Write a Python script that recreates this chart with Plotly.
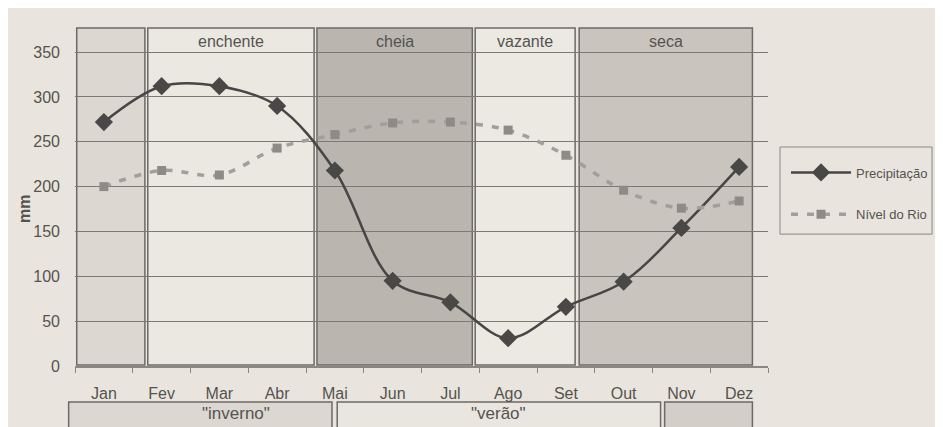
import plotly.graph_objects as go

meses = ["Jan", "Fev", "Mar", "Abr", "Mai", "Jun", "Jul", "Ago", "Set", "Out", "Nov", "Dez"]
precipitacao = [272, 312, 312, 290, 218, 95, 71, 31, 66, 94, 154, 222]
nivel_rio = [200, 218, 213, 243, 258, 271, 272, 263, 235, 196, 176, 184]

# seasons: (label, start, end in category units, fill)
estacoes = [
    ("", -0.47, 0.71, "#dcd8d1"),
    ("enchente", 0.76, 3.64, "#ebe8e2"),
    ("cheia", 3.69, 6.38, "#bab6af"),
    ("vazante", 6.43, 8.16, "#ece9e3"),
    ("seca", 8.23, 11.23, "#c9c5be"),
]
periodos = [
    ('"inverno"', -0.61, 3.95, "#dcd8d1"),
    ('"verão"', 4.04, 9.64, "#e9e6e0"),
    ("", 9.71, 11.23, "#d3cfc8"),
]

BG = "#e9e5de"
Y_TOP = 377
X0, X1 = -0.5, 11.5

fig = go.Figure()
fig.add_trace(go.Scatter(
    x=meses, y=precipitacao, name="Precipitação", mode="lines+markers",
    line=dict(color="#474545", width=2.5, shape="spline", smoothing=1.0),
    marker=dict(symbol="diamond", size=14, color="#4a4846"),
    legendgroup="a",
))
fig.add_trace(go.Scatter(
    x=meses, y=nivel_rio, name="Nível do Rio", mode="lines+markers",
    line=dict(color="#a29f9a", width=3.5, dash="7px,9px", shape="spline", smoothing=1.0),
    marker=dict(symbol="square", size=9, color="#8e8b86"),
    legendgroup="b",
))

shapes = []
annotations = []
for lab, a, b, col in estacoes:
    shapes.append(dict(type="rect", xref="x", yref="y", x0=a, x1=b, y0=1, y1=Y_TOP,
                       fillcolor=col, line=dict(color="#6c6a66", width=1.5), layer="below"))
    if lab:
        annotations.append(dict(x=(a + b) / 2, y=362, xref="x", yref="y", text=lab,
                                showarrow=False, font=dict(size=16, color="#555350")))

def to_paper(u):
    return (u - X0) / (X1 - X0)

for lab, a, b, col in periodos:
    shapes.append(dict(type="rect", xref="paper", yref="paper", x0=to_paper(a), x1=to_paper(b),
                       y0=-0.106, y1=-0.2, fillcolor=col, line=dict(color="#6c6a66", width=1.5),
                       layer="below"))
    if lab:
        annotations.append(dict(x=to_paper((a + b) / 2), y=-0.14, xref="paper", yref="paper",
                                yanchor="middle", text=lab, showarrow=False,
                                font=dict(size=17, color="#555350")))

# legend frame
shapes.append(dict(type="rect", xref="paper", yref="paper", x0=1.0173, x1=1.2367,
                   y0=0.389, y1=0.646, fillcolor=BG, line=dict(color="#8a8782", width=1),
                   layer="below"))

# y axis title
annotations.append(dict(x=-0.0736, y=0.463, xref="paper", yref="paper", text="<b>mm</b>",
                        textangle=-90, showarrow=False, xanchor="center", yanchor="middle",
                        font=dict(size=16, color="#555350")))

fig.update_layout(
    width=943, height=427,
    margin=dict(l=67, r=183, t=19, b=69),
    paper_bgcolor=BG, plot_bgcolor=BG,
    font=dict(family="Liberation Sans, Arial, sans-serif", color="#555350"),
    shapes=shapes, annotations=annotations,
    showlegend=True,
    legend=dict(x=1.026, y=0.615, xanchor="left", yanchor="top",
                bgcolor="rgba(0,0,0,0)", borderwidth=0,
                font=dict(size=13, color="#555350"), tracegroupgap=22,
                itemwidth=60),
    xaxis=dict(range=[X0, X1], showgrid=False, showline=True, linecolor="#8a8782", linewidth=1.5,
               ticks="outside", ticklen=5, tickcolor="#8a8782", tickson="boundaries",
               tickfont=dict(size=16, color="#555350"), ticklabelstandoff=12, zeroline=False),
    yaxis=dict(range=[0, Y_TOP + 1], tickvals=[0, 50, 100, 150, 200, 250, 300, 350],
               showgrid=True, gridcolor="#7c7975", gridwidth=1, zeroline=False,
               showline=False, tickfont=dict(size=16, color="#555350"), ticklabelstandoff=14),
)

fig.write_html("out.html")
